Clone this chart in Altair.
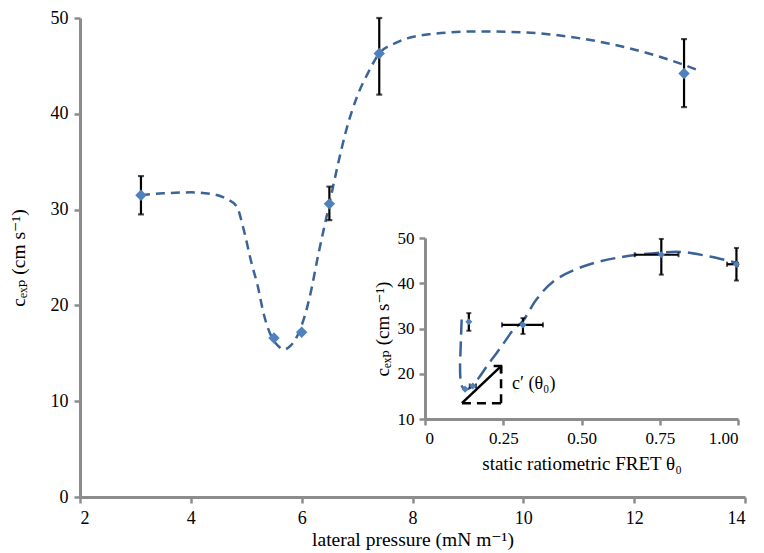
import altair as alt
import pandas as pd

# ---- main panel data: lateral pressure vs c_exp ----
pressure = [3.1, 5.5, 6.0, 6.5, 7.4, 12.9]
cexp = [31.5, 16.6, 17.2, 30.6, 46.3, 44.2]
cexp_lo = [29.5, 16.6, 17.2, 28.9, 42.0, 40.7]
cexp_hi = [33.5, 16.6, 17.2, 32.4, 50.0, 47.8]

fit_x = [3.1, 3.5, 4.0, 4.4, 4.65, 4.83, 4.95, 5.1, 5.2, 5.32, 5.45, 5.57, 5.68, 5.8,
         5.92, 6.05, 6.15, 6.3, 6.5, 6.65, 6.8, 7.0, 7.2, 7.4, 7.7, 8.3, 9.2, 10.0,
         11.0, 12.2, 12.9, 13.17]
fit_y = [31.5, 31.7, 31.8, 31.6, 31.1, 30.3, 28.0, 24.3, 22.2, 19.0, 16.8, 15.8, 15.4,
         15.8, 16.8, 18.8, 21.0, 25.3, 30.6, 34.6, 38.2, 41.8, 44.3, 46.3, 47.4, 48.3,
         48.6, 48.5, 47.9, 46.4, 45.1, 44.5]

# ---- inset data: static ratiometric FRET vs c_exp ----
fret = [0.14, 0.128, 0.153, 0.313, 0.755, 0.995]
fret_lo = [0.14, 0.128, 0.143, 0.246, 0.67, 0.965]
fret_hi = [0.14, 0.128, 0.163, 0.377, 0.81, 1.0]
in_c = [31.5, 16.6, 17.3, 30.8, 46.3, 44.2]
in_lo = [29.5, 16.6, 17.3, 28.8, 41.9, 40.6]
in_hi = [33.4, 16.6, 17.3, 32.3, 49.8, 47.8]

in_fit_x = [0.117, 0.115, 0.113, 0.112, 0.114, 0.12, 0.13, 0.145, 0.175, 0.2, 0.229,
            0.255, 0.282, 0.312, 0.356, 0.41, 0.505, 0.612, 0.755, 0.824, 0.91, 0.998]
in_fit_y = [32.0, 28.0, 24.0, 21.6, 18.5, 17.0, 16.6, 16.9, 19.4, 21.9, 24.6, 27.1,
            29.7, 31.6, 36.4, 40.4, 43.7, 45.6, 46.8, 46.9, 45.9, 44.5]

# slope triangle annotation (data units of inset)
tri_x0, tri_y0 = 0.118, 13.5
tri_x1, tri_y1 = 0.243, 21.7
label_text = "c′ (θ₀)"

FONT = "Liberation Serif, Times New Roman, Tinos, DejaVu Serif, serif"
AXIS_GRAY = "#8c8c8c"
MARK_BLUE = "#4f81bd"
LINE_BLUE = "#3a6397"

TOP = 10
W, H = 665, 497 - 8 - TOP

main_df = pd.DataFrame({"p": pressure, "c": cexp, "lo": cexp_lo, "hi": cexp_hi})
main_err = main_df[main_df["lo"] < main_df["hi"]]
fit_df = pd.DataFrame({"p": fit_x, "c": fit_y})

xs = alt.Scale(domain=[2, 14], nice=False, zero=False)
ys = alt.Scale(domain=[0, 50], nice=False)

axis_common = dict(
    domainColor=AXIS_GRAY, domainWidth=3, tickColor=AXIS_GRAY, tickWidth=2.5,
    tickSize=6, grid=False, labelFont=FONT, labelColor="black", titleFont=FONT,
    titleColor="black", titleFontWeight="normal",
)

x_main = alt.X("p:Q", scale=xs, axis=alt.Axis(
    values=[2, 4, 6, 8, 10, 12, 14], format=".0f", title="lateral pressure (mN m⁻¹)",
    labelFontSize=18, titleFontSize=19.5, labelPadding=6, titlePadding=3, **axis_common))
y_main = alt.Y("c:Q", scale=ys, axis=alt.Axis(
    values=[0, 10, 20, 30, 40, 50], format=".0f", title="cₑₓₚ (cm s⁻¹)",
    labelFontSize=18, titleFontSize=19.5, labelPadding=6, titlePadding=22, **axis_common))

main_line = alt.Chart(fit_df).mark_line(
    color=LINE_BLUE, strokeWidth=2.5, strokeDash=[9, 6], interpolate="monotone"
).encode(x=x_main, y=y_main)

main_bars = alt.Chart(main_err).mark_rule(color="black", strokeWidth=2.2).encode(
    x=alt.X("p:Q", scale=xs), y=alt.Y("lo:Q", scale=ys), y2="hi:Q")
main_cap_lo = alt.Chart(main_err).mark_tick(
    color="black", orient="horizontal", size=6, thickness=2.2).encode(
    x=alt.X("p:Q", scale=xs), y=alt.Y("lo:Q", scale=ys))
main_cap_hi = alt.Chart(main_err).mark_tick(
    color="black", orient="horizontal", size=6, thickness=2.2).encode(
    x=alt.X("p:Q", scale=xs), y=alt.Y("hi:Q", scale=ys))
main_pts = alt.Chart(main_df).mark_point(
    shape="diamond", filled=True, color=MARK_BLUE, size=130, opacity=1).encode(
    x=alt.X("p:Q", scale=xs), y=alt.Y("c:Q", scale=ys))

main = alt.layer(main_line, main_bars, main_cap_lo, main_cap_hi, main_pts)

# ---- inset ----
IX0, IX1 = 345, 658
IY0, IY1 = 419 - 8 - TOP, 238 - 8 - TOP
ixs = alt.Scale(domain=[0, 1], nice=False, range=[IX0, IX1])
iys = alt.Scale(domain=[10, 50], nice=False, range=[IY0, IY1])

in_df = pd.DataFrame({"f": fret, "flo": fret_lo, "fhi": fret_hi,
                      "c": in_c, "lo": in_lo, "hi": in_hi})
in_yerr = in_df[in_df["lo"] < in_df["hi"]]
in_xerr = in_df[in_df["flo"] < in_df["fhi"]]
in_fit = pd.DataFrame({"f": in_fit_x, "c": in_fit_y, "o": list(range(len(in_fit_x)))})

x_in = alt.X("f:Q", scale=ixs, axis=alt.Axis(
    orient="bottom", offset=-(H - IY0), values=[0, 0.25, 0.5, 0.75, 1.0],
    labelExpr="datum.value == 0 ? '0' : format(datum.value, '.2f')",
    title="static ratiometric FRET θ₀", labelFontSize=17, titleFontSize=19,
    labelPadding=5, titlePadding=8, **axis_common))
y_in = alt.Y("c:Q", scale=iys, axis=alt.Axis(
    orient="left", offset=-IX0, values=[10, 20, 30, 40, 50], format=".0f",
    title="cₑₓₚ (cm s⁻¹)", labelFontSize=17, titleFontSize=19,
    labelPadding=5, titlePadding=5, **axis_common))

in_line = alt.Chart(in_fit).mark_line(
    color=LINE_BLUE, strokeWidth=2.5, strokeDash=[15, 7], interpolate="catmull-rom"
).encode(x=x_in, y=y_in, order="o:Q")

in_vbars = alt.Chart(in_yerr).mark_rule(color="black", strokeWidth=2.2).encode(
    x=alt.X("f:Q", scale=ixs), y=alt.Y("lo:Q", scale=iys), y2="hi:Q")
in_vcap_lo = alt.Chart(in_yerr).mark_tick(
    color="black", orient="horizontal", size=5, thickness=2).encode(
    x=alt.X("f:Q", scale=ixs), y=alt.Y("lo:Q", scale=iys))
in_vcap_hi = alt.Chart(in_yerr).mark_tick(
    color="black", orient="horizontal", size=5, thickness=2).encode(
    x=alt.X("f:Q", scale=ixs), y=alt.Y("hi:Q", scale=iys))
in_hbars = alt.Chart(in_xerr).mark_rule(color="black", strokeWidth=2.2).encode(
    x=alt.X("flo:Q", scale=ixs), x2="fhi:Q", y=alt.Y("c:Q", scale=iys))
in_hcap_lo = alt.Chart(in_xerr).mark_tick(
    color="black", orient="vertical", size=5, thickness=2).encode(
    x=alt.X("flo:Q", scale=ixs), y=alt.Y("c:Q", scale=iys))
in_hcap_hi = alt.Chart(in_xerr).mark_tick(
    color="black", orient="vertical", size=5, thickness=2).encode(
    x=alt.X("fhi:Q", scale=ixs), y=alt.Y("c:Q", scale=iys))
in_pts = alt.Chart(in_df).mark_point(
    shape="diamond", filled=True, color=MARK_BLUE, size=50, opacity=1).encode(
    x=alt.X("f:Q", scale=ixs), y=alt.Y("c:Q", scale=iys))

tri_df = pd.DataFrame({"x0": [tri_x0], "y0": [tri_y0], "x1": [tri_x1], "y1": [tri_y1],
                       "t": [label_text]})
arrow = alt.Chart(tri_df).mark_rule(color="black", strokeWidth=2.5).encode(
    x=alt.X("x0:Q", scale=ixs), y=alt.Y("y0:Q", scale=iys), x2="x1:Q", y2="y1:Q")
arrow_head = alt.Chart(tri_df).mark_point(
    shape="M -1 1 L 0 0 L 1 1", filled=False, color="black", strokeWidth=2.5,
    size=110, angle=45, opacity=1).encode(
    x=alt.X("x1:Q", scale=ixs), y=alt.Y("y1:Q", scale=iys))
tri_h = alt.Chart(tri_df).mark_rule(color="black", strokeWidth=2.5, strokeDash=[9, 6]).encode(
    x=alt.X("x0:Q", scale=ixs), x2="x1:Q", y=alt.Y("y0:Q", scale=iys))
tri_v = alt.Chart(tri_df).mark_rule(color="black", strokeWidth=2.5, strokeDash=[9, 6]).encode(
    x=alt.X("x1:Q", scale=ixs), y=alt.Y("y0:Q", scale=iys), y2="y1:Q")
tri_label = alt.Chart(tri_df).transform_calculate(
    ym="(datum.y0 + datum.y1) / 2"
).mark_text(
    font=FONT, fontSize=18, align="left", baseline="middle", dx=11, dy=-1,
    color="black").encode(
    x=alt.X("x1:Q", scale=ixs), y=alt.Y("ym:Q", scale=iys), text="t:N")

inset = alt.layer(in_line, in_vbars, in_vcap_lo, in_vcap_hi, in_hbars, in_hcap_lo,
                  in_hcap_hi, in_pts, arrow, arrow_head, tri_h, tri_v, tri_label)

chart = alt.layer(main, inset).resolve_scale(
    x="independent", y="independent"
).properties(
    width=W, height=H,
    autosize=alt.AutoSizeParams(type="none"),
    padding={"left": 72, "top": TOP, "right": 11, "bottom": 64},
).configure_view(stroke=None)

chart.save("out.html", embed_options={"renderer": "svg", "actions": False})
